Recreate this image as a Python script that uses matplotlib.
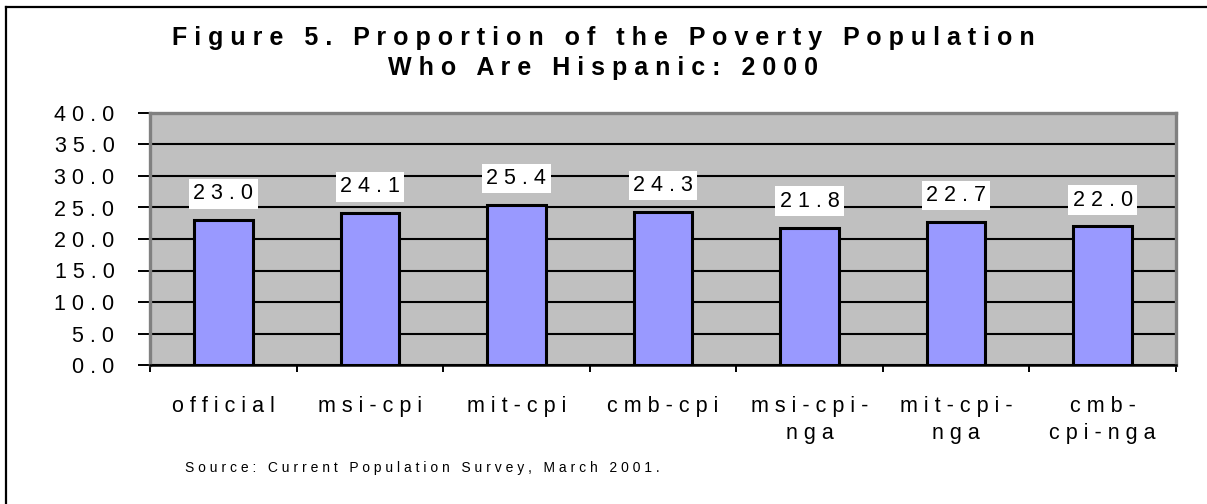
import numpy as np
import matplotlib
matplotlib.use('Agg')
import matplotlib.pyplot as plt
from matplotlib.lines import Line2D

plt.rcParams['font.family'] = ['Liberation Sans', 'DejaVu Sans']

# data
categories = ['official', 'msi-cpi', 'mit-cpi', 'cmb-cpi',
              'msi-cpi-\nnga', 'mit-cpi-\nnga', 'cmb-\ncpi-nga']
values = [23.0, 24.1, 25.4, 24.3, 21.8, 22.7, 22.0]
yticks = [0, 5, 10, 15, 20, 25, 30, 35, 40]

title = 'Figure 5. Proportion of the Poverty Population\nWho Are Hispanic: 2000'
source = 'Source: Current Population Survey, March 2001.'


def spread(s):
    # old excel charts have very wide letter spacing
    return '\n'.join(' '.join(line) for line in s.split('\n'))


W, H = 1207, 504
fig = plt.figure(figsize=(W / 100, H / 100), dpi=100)

# plot area in pixels
left, right, top, bottom = 150, 1176, 113, 365
ax = fig.add_axes([left / W, 1 - bottom / H, (right - left) / W, (bottom - top) / H])
ax.set_facecolor('#c0c0c0')

x = np.arange(len(categories))
ax.bar(x, values, width=0.4, color='#9999ff', edgecolor='black', linewidth=2.2, zorder=3)

for i, v in enumerate(values):
    ax.annotate(spread('%.1f' % v), (i, v), xytext=(0, 19), textcoords='offset points',
                ha='center', va='center', fontsize=15.5, zorder=5,
                bbox=dict(boxstyle='square,pad=0.2', fc='white', ec='none'))

ax.set_xlim(-0.5, len(categories) - 0.5)
ax.set_ylim(0, 40)
ax.set_yticks(yticks)
ax.set_yticklabels([spread('%.1f' % t) for t in yticks], fontsize=15.5)
ax.yaxis.grid(True, color='black', linewidth=1.5, zorder=1)
ax.set_axisbelow(True)

ax.set_xticks(np.arange(-0.5, len(categories), 1))
ax.set_xticklabels([])
ax.set_xticks(x, minor=True)
ax.set_xticklabels([spread(c) for c in categories], minor=True, fontsize=15.5,
                   linespacing=1.4)
ax.tick_params(axis='x', which='major', direction='out', length=5, width=1.4, color='black')
ax.tick_params(axis='x', which='minor', length=0, pad=22)
ax.tick_params(axis='y', direction='out', length=8.6, width=1.4, color='black', pad=17)

for s in ['top', 'right', 'left']:
    ax.spines[s].set_color('#808080')
    ax.spines[s].set_linewidth(2.4)
ax.spines['bottom'].set_color('black')
ax.spines['bottom'].set_linewidth(1.8)

fig.text(0.5, 1 - 26 / H, spread(title), ha='center', va='top', fontsize=18,
         fontweight='bold', linespacing=1.3)
fig.text(185 / W, 1 - 468 / H, spread(source), ha='left', va='center', fontsize=10)

# outer chart border (cut off at right and bottom)
fig.add_artist(Line2D([5.5 / W, 5.5 / W], [0, 1 - 6.5 / H], color='black', linewidth=1.6))
fig.add_artist(Line2D([5.5 / W, 1], [1 - 6.5 / H, 1 - 6.5 / H], color='black', linewidth=1.6))

fig.savefig('out.png', dpi=100)
